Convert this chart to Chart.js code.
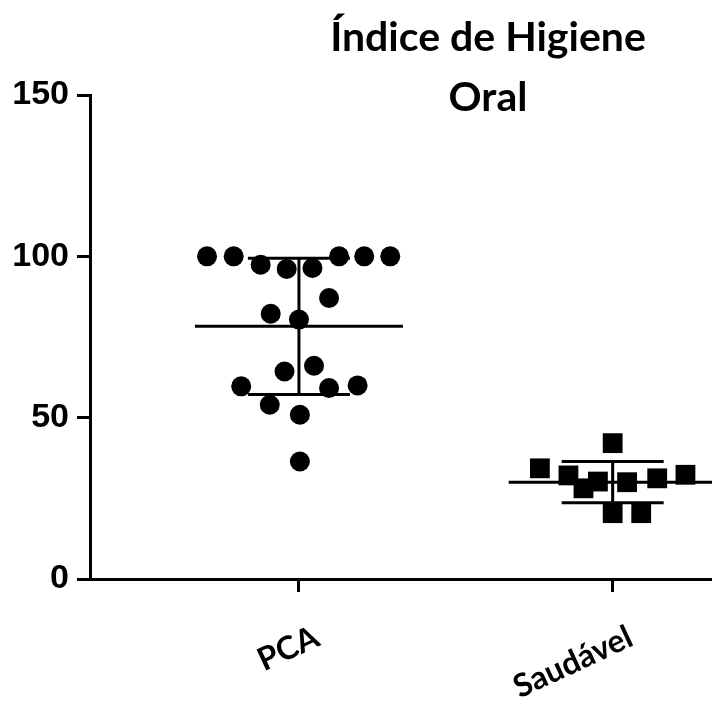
<!DOCTYPE html>
<html>
<head>
<meta charset="utf-8">
<script src="https://cdn.jsdelivr.net/npm/chart.js@4/dist/chart.umd.min.js"></script>
<style>
  html, body { margin: 0; padding: 0; background: #fff; overflow: hidden; }
  #wrap { position: relative; width: 712px; height: 704px; overflow: hidden; }
  #c { display: block; }
  #titulo {
    position: absolute; top: 6px; left: 238px; width: 500px;
    text-align: center; font: bold 41px Lato, sans-serif; line-height: 60px; color: #000;
  }
</style>
</head>
<body>
<div id="wrap">
  <!-- canvas um pouco mais largo: o eixo x sai pela borda direita como no original -->
  <canvas id="c" width="728" height="704"></canvas>
  <div id="titulo">Índice de Higiene<br>Oral</div>
</div>
<script>
// categorias e valores
const categories = ['PCA', 'Saudável'];
const yTicks = [0, 50, 100, 150];

const pcaValues = [100, 100, 100, 100, 100, 97.4, 96.1, 96.4, 87.1, 82.2, 80.4, 66.1, 64.3, 59.7, 59.2, 60.0, 54.0, 50.9, 36.4];
const pcaJitter = [-0.293, -0.208, 0.128, 0.208, 0.291, -0.122, -0.039, 0.043, 0.096, -0.090, 0, 0.048, -0.046, -0.184, 0.096, 0.187, -0.093, 0.003, 0.003];

const saudValues = [42.1, 34.3, 32.1, 28.1, 30.2, 30.0, 31.2, 32.3, 20.4, 20.4];
const saudJitter = [0, -0.232, -0.141, -0.093, -0.047, 0.046, 0.142, 0.232, 0, 0.091];

const means = [78.3, 30.0];
const sds = [21.1, 6.4];

// linha da média e barras de desvio (em px)
const errorBars = {
  id: 'errorBars',
  afterDatasetsDraw(chart) {
    const { ctx, scales: { x, y } } = chart;
    ctx.save();
    ctx.strokeStyle = '#000';
    ctx.lineWidth = 3;
    ctx.lineCap = 'butt';
    means.forEach((m, i) => {
      const cx = x.getPixelForValue(i + 1);
      const ym = y.getPixelForValue(m);
      const yt = y.getPixelForValue(m + sds[i]);
      const yb = y.getPixelForValue(m - sds[i]);
      ctx.beginPath();
      ctx.moveTo(cx - 104, ym); ctx.lineTo(cx + 104, ym);
      ctx.moveTo(cx, yt); ctx.lineTo(cx, yb);
      ctx.moveTo(cx - 51, yt); ctx.lineTo(cx + 51, yt);
      ctx.moveTo(cx - 51, yb); ctx.lineTo(cx + 51, yb);
      ctx.stroke();
    });
    ctx.restore();
  }
};

new Chart(document.getElementById('c'), {
  type: 'scatter',
  data: {
    datasets: [
      {
        label: categories[0],
        data: pcaValues.map((v, i) => ({ x: 1 + pcaJitter[i], y: v })),
        pointStyle: 'circle', pointRadius: 10, pointHoverRadius: 10,
        backgroundColor: '#000', borderColor: '#000', borderWidth: 0,
      },
      {
        label: categories[1],
        data: saudValues.map((v, i) => ({ x: 2 + saudJitter[i], y: v })),
        pointStyle: 'rect', pointRadius: 14, pointHoverRadius: 14,
        backgroundColor: '#000', borderColor: '#000', borderWidth: 0,
      },
    ],
  },
  options: {
    responsive: false,
    animation: false,
    clip: false,
    layout: { padding: { top: 95, right: 0, left: 0, bottom: 0 } },
    plugins: { legend: { display: false }, tooltip: { enabled: false }, title: { display: false } },
    scales: {
      x: {
        type: 'linear', min: 0.334, max: 2.323,
        afterBuildTicks: s => { s.ticks = categories.map((c, i) => ({ value: i + 1 })); },
        afterFit: s => { s.height = 125; },
        border: { display: true, color: '#000', width: 3 },
        grid: { drawOnChartArea: false, drawTicks: true, tickLength: 13, tickWidth: 3, tickColor: '#000' },
        ticks: {
          color: '#000', font: { family: 'Lato', weight: 'bold', size: 32 },
          minRotation: 25, maxRotation: 25, padding: 26, labelOffset: 18, autoSkip: false,
          callback: v => categories[v - 1] || '',
        },
      },
      y: {
        min: 0, max: 150,
        afterBuildTicks: s => { s.ticks = yTicks.map(v => ({ value: v })); },
        afterFit: s => { s.width = 90; },
        border: { display: true, color: '#000', width: 3 },
        grid: { drawOnChartArea: false, drawTicks: true, tickLength: 13, tickWidth: 3, tickColor: '#000' },
        ticks: {
          color: '#000', font: { family: 'Liberation Sans', weight: 'bold', size: 34 },
          padding: 8,
        },
      },
    },
  },
  plugins: [errorBars],
});
</script>
</body>
</html>
